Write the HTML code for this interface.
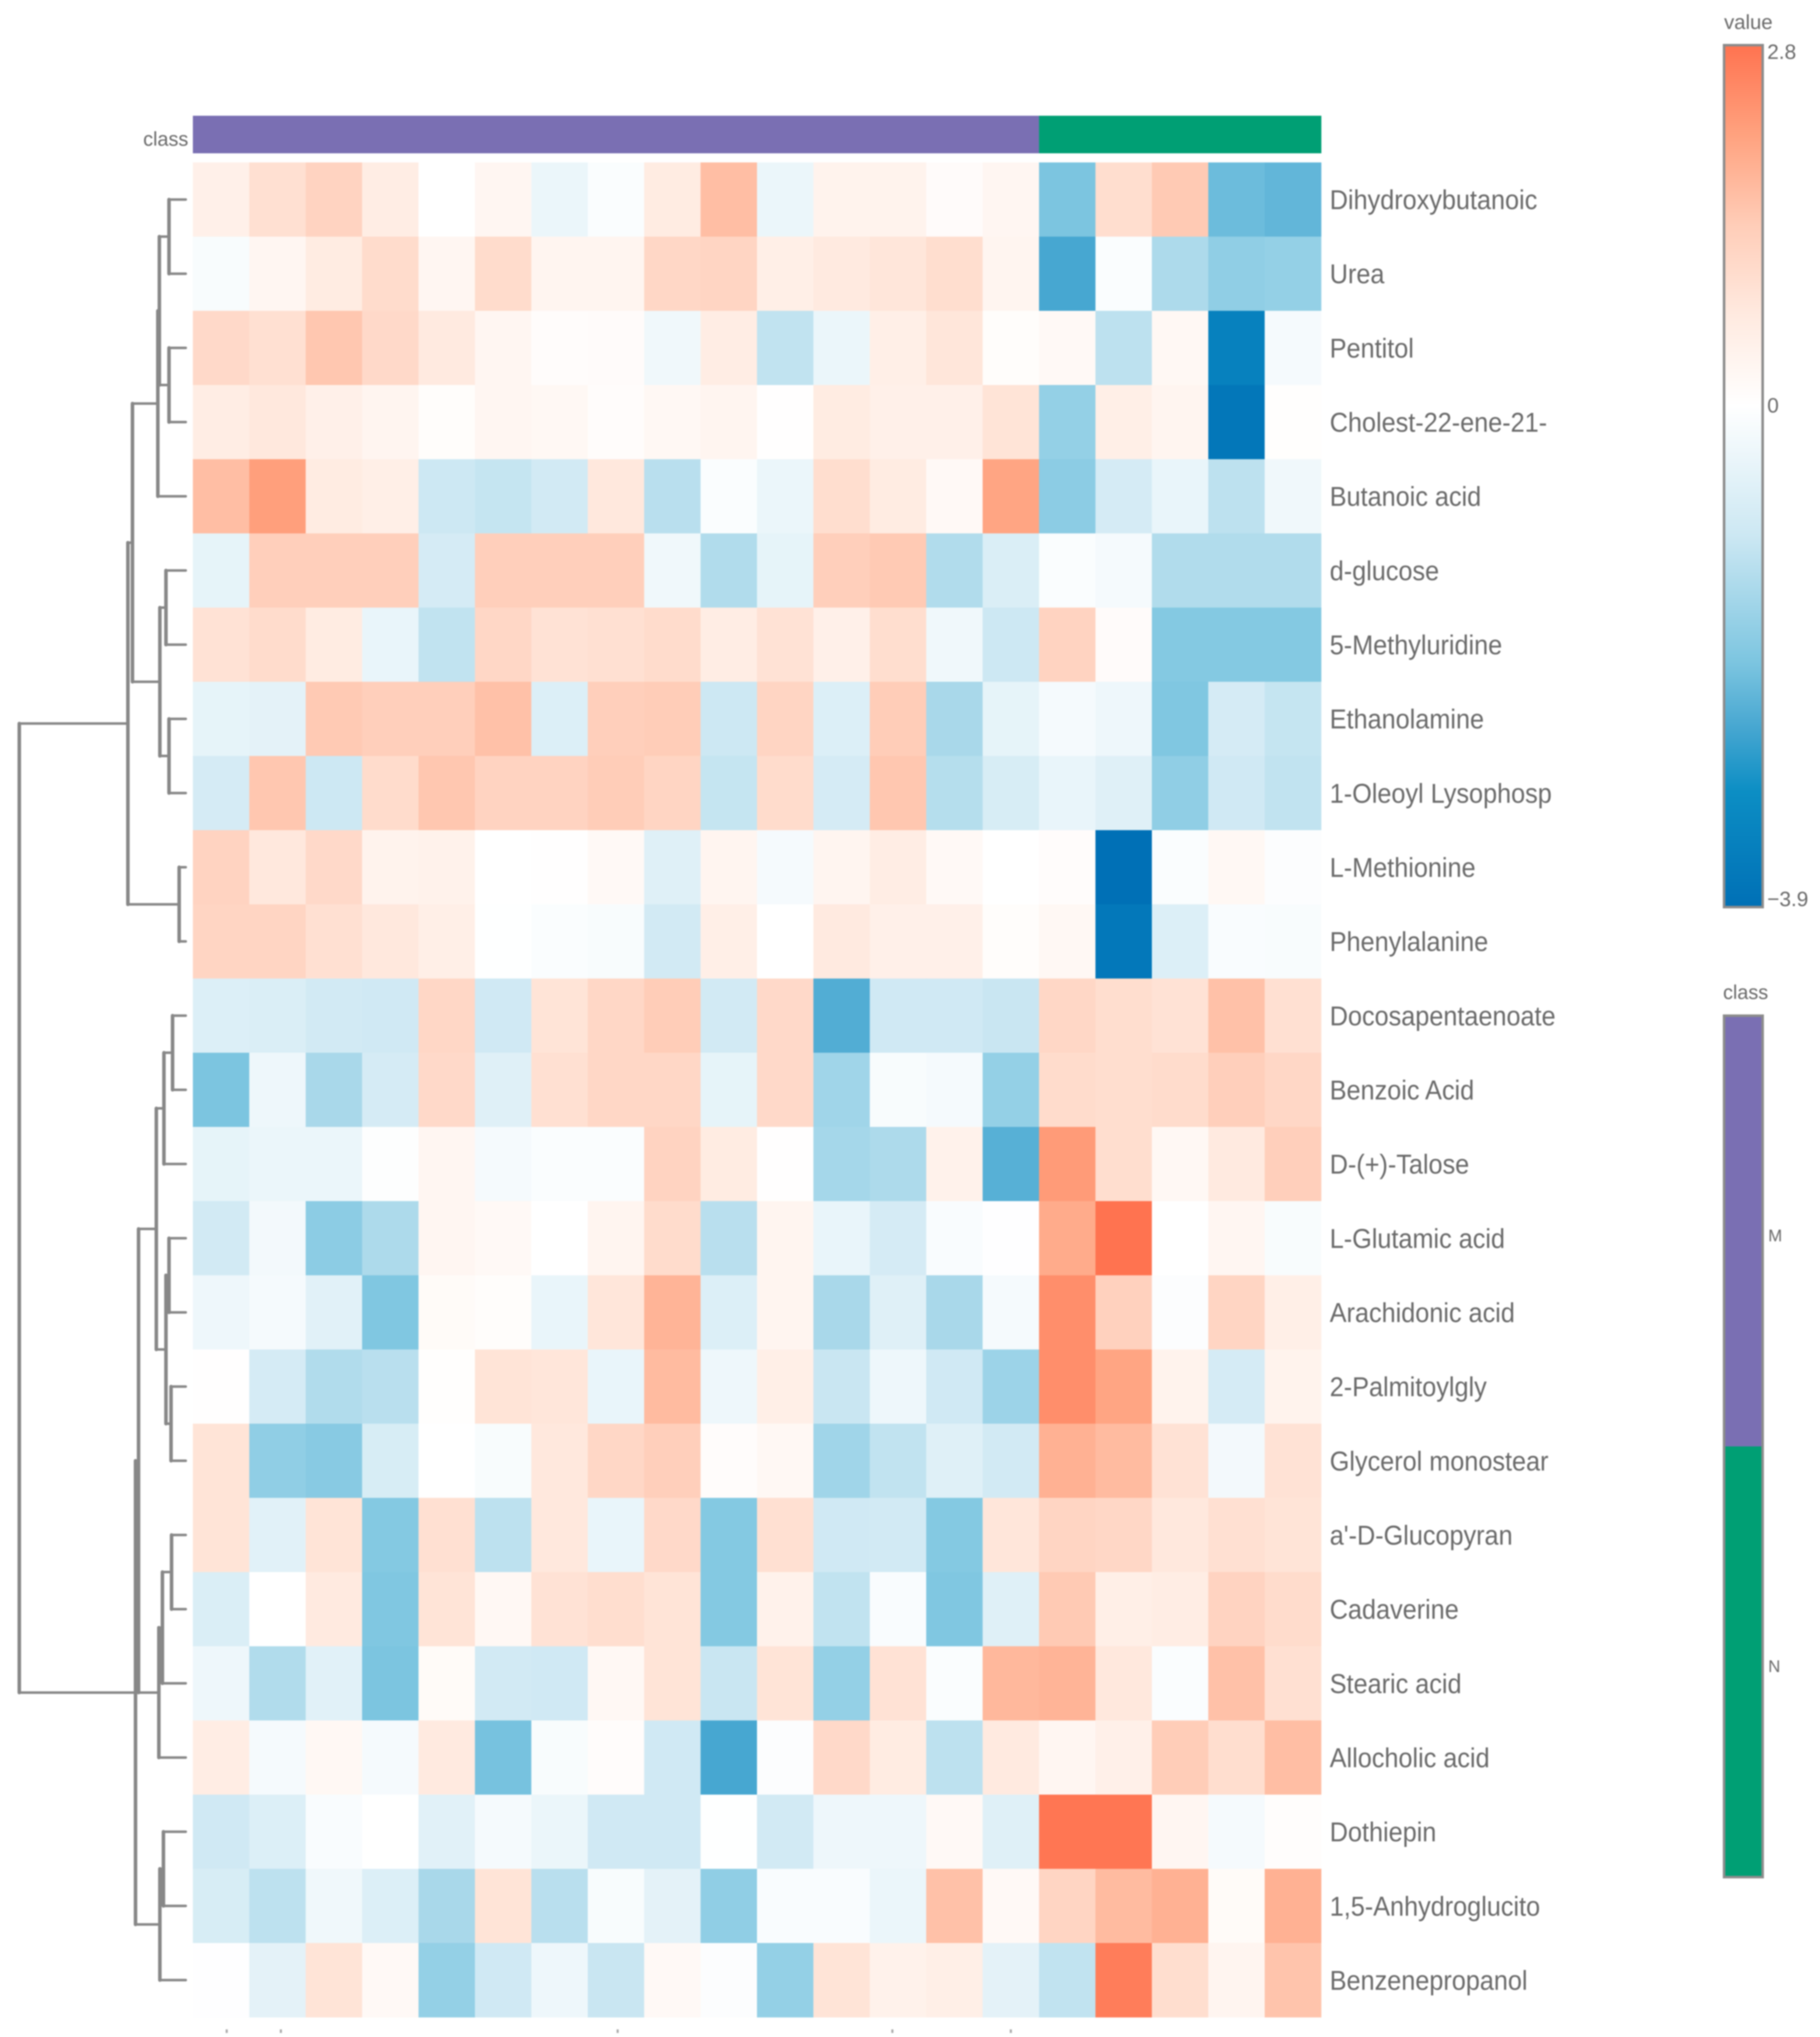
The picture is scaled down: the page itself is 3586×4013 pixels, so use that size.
<!DOCTYPE html>
<html lang="en">
<head>
<meta charset="utf-8">
<title>Clustered metabolite heatmap</title>
<style>
html,body{margin:0;padding:0;background:#fff;width:3586px;height:4013px;overflow:hidden}
#chart{display:block;filter:blur(1.3px)}
text{font-family:"Liberation Sans",sans-serif;fill:#6a6a6a}
</style>
</head>
<body>
<svg id="chart" xmlns="http://www.w3.org/2000/svg" width="3586" height="4013" viewBox="0 0 3586 4013">
<rect x="0" y="0" width="3586" height="4013" fill="#ffffff"/>
<g id="dendrogram"></g>
<g id="annotation"></g>
<g id="cells"></g>
<g id="rowLabelGroup"></g>
<g id="bottomTicks"></g>
<g id="valueLegend"></g>
<g id="classLegend"></g>
</svg>
<script>
const rowLabels = ["Dihydroxybutanoic","Urea","Pentitol","Cholest-22-ene-21-","Butanoic acid","d-glucose","5-Methyluridine","Ethanolamine","1-Oleoyl Lysophosp","L-Methionine","Phenylalanine","Docosapentaenoate","Benzoic Acid","D-(+)-Talose","L-Glutamic acid","Arachidonic acid","2-Palmitoylgly","Glycerol monostear","a'-D-Glucopyran","Cadaverine","Stearic acid","Allocholic acid","Dothiepin","1,5-Anhydroglucito","Benzenepropanol"];
const columnClasses = ["M","M","M","M","M","M","M","M","M","M","M","M","M","M","M","N","N","N","N","N"];
const heatValues = [
[.5,.95,1.25,.6,0,.3,-.4,-.1,.65,1.65,-.4,.4,.4,.12,.3,-2,1,1.45,-2.15,-2.25],
[-.15,.3,.65,1.05,.3,1.05,.35,.35,1.15,1.2,.55,.7,.8,1,.35,-2.5,-.1,-1.4,-1.75,-1.7],
[1.1,.95,1.5,1.1,.7,.3,.1,.12,-.3,.6,-1.15,-.4,.55,.8,.08,.2,-1.2,.25,-3.4,-.2],
[.6,.75,.5,.35,.08,.3,.25,.1,.25,.35,.03,.65,.5,.5,.85,-1.7,.55,.35,-3.7,.05],
[1.65,2.15,.65,.55,-1,-1.1,-.9,.75,-1.25,-.1,-.4,1,.65,.2,2.05,-1.8,-.85,-.45,-1.2,-.3],
[-.5,1.35,1.35,1.35,-.85,1.35,1.35,1.35,-.3,-1.35,-.5,1.35,1.45,-1.35,-.75,-.1,-.2,-1.35,-1.35,-1.35],
[.9,1.05,.65,-.45,-1.15,1.15,.9,.95,1.05,.6,.9,.5,1,-.3,-1,1.25,.12,-1.9,-1.9,-1.9],
[-.5,-.55,1.45,1.35,1.35,1.6,-.7,1.35,1.4,-1,1.2,-.7,1.4,-1.45,-.5,-.2,-.35,-1.95,-.85,-1.1],
[-.85,1.5,-1,1.05,1.5,1.25,1.25,1.4,1.2,-1.1,1.05,-.85,1.5,-1.3,-.8,-.45,-.65,-1.75,-.95,-1.15],
[1.25,.75,1.1,.4,.45,0,.03,.2,-.65,.35,-.2,.35,.6,.2,0,.1,-3.9,-.1,.25,-.07],
[1.2,1.2,.95,.75,.55,-.02,-.1,-.15,-.9,.55,0,.7,.5,.5,.08,.25,-3.65,-.7,-.12,-.15],
[-.7,-.75,-.9,-.95,1.15,-.95,.85,1.15,1.4,-.9,1.1,-2.4,-.95,-.95,-1.05,1.15,1,.9,1.6,.95],
[-2,-.35,-1.45,-.85,1.1,-.65,.95,1.15,1.15,-.5,1.1,-1.55,-.15,-.2,-1.7,1.05,1,1.05,1.35,1.15],
[-.5,-.4,-.4,-.05,.3,-.2,-.1,-.1,1.25,.65,.03,-1.5,-1.4,.45,-2.35,2.2,1,.25,.7,1.35],
[-.9,-.25,-1.8,-1.4,.3,.2,0,.35,1.05,-1.25,.35,-.45,-.85,-.12,-.03,1.95,2.8,0,.3,-.15],
[-.35,-.2,-.6,-1.95,.15,.08,-.45,.8,1.8,-.7,.35,-1.45,-.65,-1.45,-.2,2.4,1.3,-.07,1.2,.55],
[.02,-.85,-1.35,-1.25,.05,.85,.8,-.45,1.7,-.35,.55,-1.05,-.35,-.95,-1.6,2.4,2.05,.4,-.85,.4],
[.85,-1.75,-1.85,-.8,0,-.15,.75,1.15,1.35,.1,.25,-1.55,-1.15,-.65,-.9,1.85,1.7,.9,-.25,.9],
[.85,-.6,.85,-1.9,.95,-1.2,.75,-.45,1.1,-1.9,.95,-.95,-.9,-1.9,.8,1.2,1.15,.75,.95,.85],
[-.75,0,.7,-1.95,.85,.25,.9,1,.85,-1.9,.45,-1.15,-.12,-1.95,-.65,1.45,.55,.6,1.25,1.05],
[-.35,-1.35,-.6,-2,.15,-.9,-.95,.25,.85,-1.05,.85,-1.7,.9,-.1,1.75,1.8,.75,-.1,1.6,.95],
[.6,-.2,.25,-.2,.7,-2.05,-.15,.1,-.95,-2.5,-.07,1.1,.65,-1.2,.7,.3,.5,1.4,1,1.65],
[-.95,-.7,-.12,.01,-.6,-.2,-.4,-.95,-.95,-.02,-.9,-.35,-.35,.2,-.65,2.75,2.75,.3,-.2,.07],
[-.8,-1.2,-.3,-.7,-1.45,.85,-1.25,-.15,-.55,-1.75,-.12,-.12,-.4,1.6,.2,1.2,1.7,1.85,.15,1.85],
[-.03,-.55,.85,.2,-1.7,-.95,-.35,-1.05,.2,-.07,-1.7,.85,.45,.55,-.55,-1.15,2.65,1,.35,1.55]
];
const colorbarTicks = [2.8, 0, -3.9];
const colorbarTickLabels = ["2.8", "0", "\u22123.9"];
const classLevels = ["M", "N"];
const classColors = {M: "#7a6fb3", N: "#009f74"};
const dendrogramTree = [38, [252, [261, [311, [314, [333, 0, 1], [333, 2, 3]], 4], [315, [327, 5, 6], [333, 7, 8]]], [353, 9, 10]], [267, [273, [308, [323, [340, 11, 12], 13], [327, [333, 14, 15], [337, 16, 17]]], [313, [320, [338, 18, 19], 20], 21]], [315, [322, 22, 23], 24]]];
const bottomTickColumns = [0.6, 1.56, 7.53, 12.4, 14.5];

const NS = "http://www.w3.org/2000/svg";
const plotLeft = 380, plotTop = 320, plotRight = 2603, plotBottom = 3974;
const cellW = (plotRight - plotLeft) / columnClasses.length;
const cellH = (plotBottom - plotTop) / rowLabels.length;
function xScale(c) { return plotLeft + c * cellW; }
function yScale(r) { return plotTop + r * cellH; }

const barTop = 89, barBottom = 1787;
function colorbarY(v) {
  const hi = Math.max.apply(null, colorbarTicks), lo = Math.min.apply(null, colorbarTicks);
  return barTop + (hi - v) / (hi - lo) * (barBottom - barTop);
}

const colorStops = [
  [-3.9, [0, 112, 182]], [-3, [12, 142, 196]], [-2.5, [71, 167, 209]], [-2, [124, 197, 224]],
  [-1, [205, 232, 243]], [0, [255, 255, 255]], [0.7, [255, 234, 224]], [1.4, [255, 205, 184]],
  [2.1, [255, 162, 127]], [2.8, [255, 115, 80]]
];
function colorFor(v) {
  if (v <= colorStops[0][0]) return "rgb(" + colorStops[0][1].join(",") + ")";
  for (let i = 1; i < colorStops.length; i++) {
    if (v <= colorStops[i][0]) {
      const a = colorStops[i - 1], b = colorStops[i];
      const t = (v - a[0]) / (b[0] - a[0]);
      const rgb = a[1].map(function (k, j) { return Math.round(k + (b[1][j] - k) * t); });
      return "rgb(" + rgb.join(",") + ")";
    }
  }
  return "rgb(" + colorStops[colorStops.length - 1][1].join(",") + ")";
}
function mk(tag, attrs, parent) {
  const el = document.createElementNS(NS, tag);
  for (const k in attrs) el.setAttribute(k, attrs[k]);
  parent.appendChild(el);
  return el;
}

/* heatmap cells */
const cellsG = document.getElementById("cells");
heatValues.forEach(function (row, r) {
  row.forEach(function (v, c) {
    const cell = mk("rect", {x: xScale(c), y: yScale(r), width: cellW + 0.5, height: cellH + 0.5, fill: colorFor(v)}, cellsG);
    
    
  });
});

/* class annotation */
const annG = document.getElementById("annotation");
columnClasses.forEach(function (k, c) {
  const cell = mk("rect", {x: xScale(c), y: 228, width: cellW + 0.5, height: 74, fill: classColors[k]}, annG);
  
  
});
const annTitle = mk("text", {x: 371, y: 287, "font-size": 39, "text-anchor": "end"}, annG);
annTitle.textContent = "class";



/* row labels */
const labelsG = document.getElementById("rowLabelGroup");
rowLabels.forEach(function (name, r) {
  const t = mk("text", {transform: "translate(2620 " + (yScale(r + 0.5) + 19) + ") scale(0.975 1.05)", "font-size": 51}, labelsG);
  t.textContent = name;
  
  
});

/* dendrogram */
const dendroG = document.getElementById("dendrogram");
const leafEnd = 366;
function hLine(x1, x2, y) {
  const l = mk("line", {x1: x1, x2: x2, y1: y, y2: y, stroke: "#888888", "stroke-width": 5, "stroke-linecap": "round"}, dendroG);
  
  
}
function vLine(x, y1, y2) {
  const l = mk("line", {x1: x, x2: x, y1: y1, y2: y2, stroke: "#888888", "stroke-width": 7, "stroke-linecap": "round"}, dendroG);
  
  
}
function drawNode(node) {
  if (typeof node === "number") return {x: leafEnd, y: yScale(node + 0.5)};
  const x = node[0];
  const a = drawNode(node[1]);
  const b = drawNode(node[2]);
  hLine(x, a.x, a.y);
  hLine(x, b.x, b.y);
  vLine(x, a.y, b.y);
  return {x: x, y: (a.y + b.y) / 2};
}
drawNode(dendrogramTree);

/* remnants of bottom ticks */
const ticksG = document.getElementById("bottomTicks");
bottomTickColumns.forEach(function (c) {
  const l = mk("line", {x1: xScale(c), x2: xScale(c), y1: 3998, y2: 4005, stroke: "#a8a8a8", "stroke-width": 4}, ticksG);
  
  
});

/* value colorbar */
const valueG = document.getElementById("valueLegend");
const defs = mk("defs", {}, valueG);
const grad = mk("linearGradient", {id: "valueGradient", x1: 0, x2: 0, y1: 0, y2: 1}, defs);
const hiV = Math.max.apply(null, colorbarTicks), loV = Math.min.apply(null, colorbarTicks);
colorStops.slice().reverse().forEach(function (s) {
  mk("stop", {offset: (hiV - s[0]) / (hiV - loV), "stop-color": "rgb(" + s[1].join(",") + ")"}, grad);
});
const valueBar = mk("rect", {x: 3397, y: barTop, width: 76, height: barBottom - barTop, fill: "url(#valueGradient)", stroke: "#8c8c8c", "stroke-width": 5}, valueG);


const valueTitle = mk("text", {x: 3397, y: 57, "font-size": 40}, valueG);
valueTitle.textContent = "value";


colorbarTicks.forEach(function (v, i) {
  const offset = v === hiV ? 27 : (v === loV ? -2 : 14);
  const t = mk("text", {x: 3482, y: colorbarY(v) + offset, "font-size": 41}, valueG);
  t.textContent = colorbarTickLabels[i];
  
  
});

/* class legend */
const classG = document.getElementById("classLegend");
const legendTop = 2001, legendBottom = 3698;
const legendH = (legendBottom - legendTop) / classLevels.length;
classLevels.forEach(function (k, i) {
  const r = mk("rect", {x: 3397, y: legendTop + i * legendH, width: 76, height: legendH, fill: classColors[k]}, classG);
  
  
});
const legendFrame = mk("rect", {x: 3397, y: legendTop, width: 76, height: legendBottom - legendTop, fill: "none", stroke: "#8c8c8c", "stroke-width": 5}, classG);


classLevels.forEach(function (k, i) {
  const t = mk("text", {x: 3484, y: legendTop + (i + 0.5) * legendH + 20, "font-size": 33}, classG);
  t.textContent = k;
  
  
});
const classTitle = mk("text", {x: 3395, y: 1968, "font-size": 39}, classG);
classTitle.textContent = "class";


</script>
</body>
</html>
